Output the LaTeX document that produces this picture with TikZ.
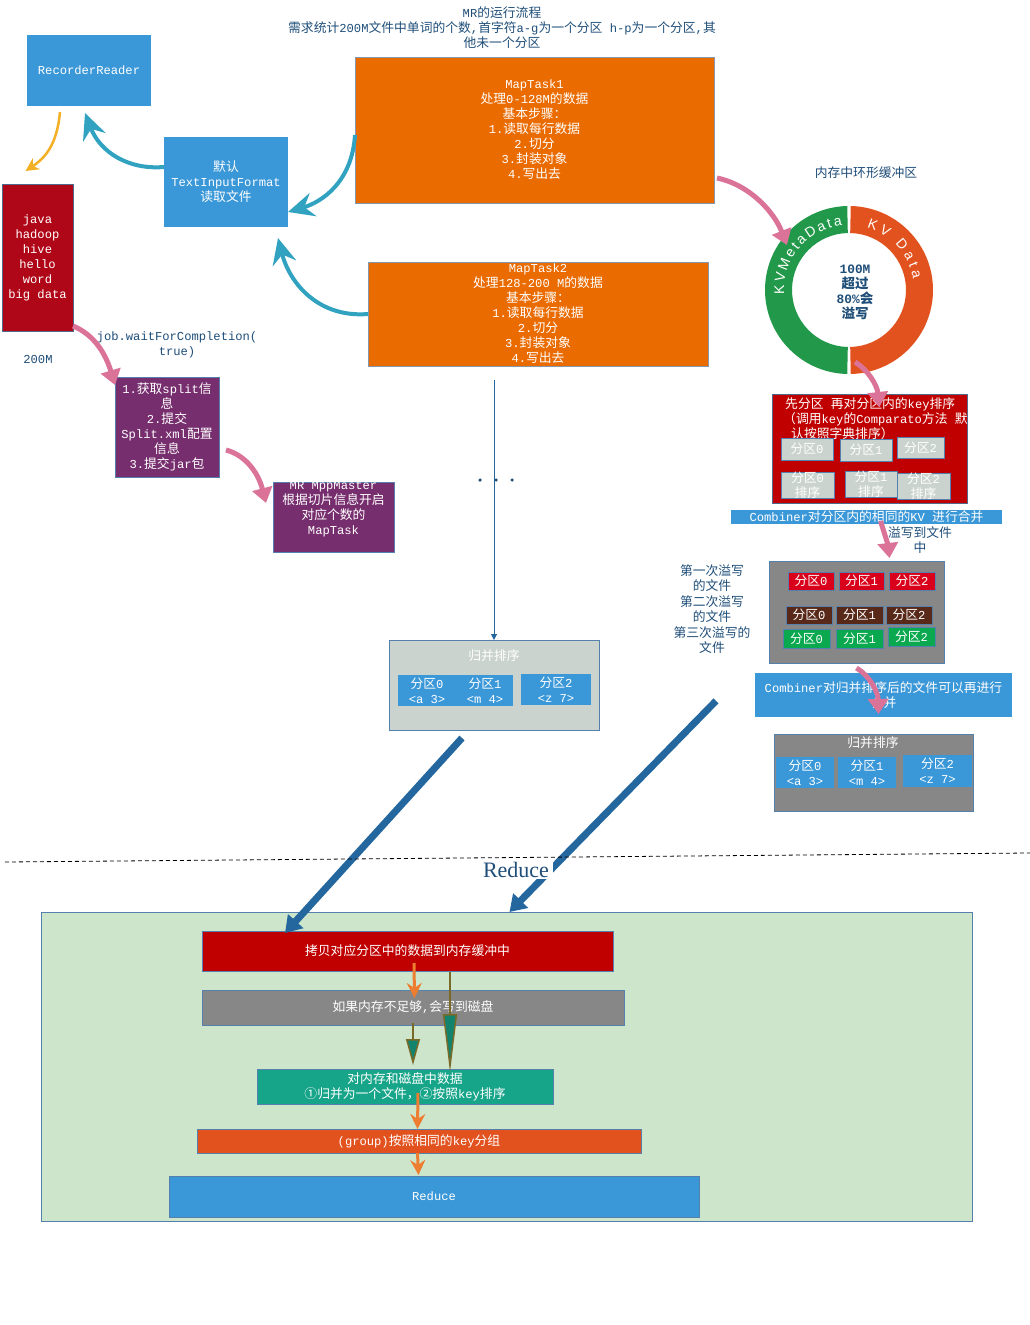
\documentclass[tikz,border=0pt]{standalone}
\usepackage{fontspec}
\setmainfont[Scale=0.95]{Liberation Mono}
\newfontfamily\cjkfont{Noto Sans CJK SC}
\newfontfamily\arialf{Liberation Sans}
\newfontfamily\redfont{Liberation Serif}
\XeTeXinterchartokenstate=1
\newXeTeXintercharclass\cjkclass
\makeatletter
\count@="3000 \loop \XeTeXcharclass\count@=\cjkclass \ifnum\count@<"303F \advance\count@ 1 \repeat
\count@="4E00 \loop \XeTeXcharclass\count@=\cjkclass \ifnum\count@<"9FFF \advance\count@ 1 \repeat
\count@="FF00 \loop \XeTeXcharclass\count@=\cjkclass \ifnum\count@<"FFEF \advance\count@ 1 \repeat
\count@="2460 \loop \XeTeXcharclass\count@=\cjkclass \ifnum\count@<"24FF \advance\count@ 1 \repeat
\makeatother
\XeTeXinterchartoks 0 \cjkclass = {\cjkfont}
\XeTeXinterchartoks 4095 \cjkclass = {\cjkfont}
\XeTeXinterchartoks \cjkclass 0 = {\rmfamily}
\XeTeXinterchartoks \cjkclass 4095 = {\rmfamily}
\usetikzlibrary{arrows.meta,decorations.text}
\definecolor{tblue}{HTML}{1F4E79}
\definecolor{bblue}{HTML}{3A97D8}
\definecolor{orng}{HTML}{EA6B00}
\definecolor{dred}{HTML}{B00718}
\definecolor{purp}{HTML}{772E6E}
\definecolor{teal1}{HTML}{31A3C0}
\definecolor{pink1}{HTML}{DB7398}
\definecolor{gold1}{HTML}{F4B025}
\definecolor{rred}{HTML}{C00000}
\definecolor{lgray}{HTML}{CBD3CE}
\definecolor{mgray}{HTML}{878787}
\definecolor{rgreen}{HTML}{22994A}
\definecolor{rorange}{HTML}{E2521F}
\definecolor{sred}{HTML}{D9001B}
\definecolor{sbrown}{HTML}{582819}
\definecolor{sgreen}{HTML}{0AA84F}
\definecolor{lgreen}{HTML}{CDE6CB}
\definecolor{tealbox}{HTML}{17A589}
\definecolor{aorange}{HTML}{ED7D31}
\definecolor{darrow}{HTML}{24679E}
\definecolor{olive}{HTML}{7A6A2A}
\definecolor{edgeblue}{HTML}{5580AE}
\definecolor{slate}{HTML}{4F6A8A}
\newcommand\fsz{\fontsize{12.8}{15}\selectfont}
\begin{document}
\begin{tikzpicture}[x=1pt,y=-1pt,
 box/.style={anchor=north west, inner sep=0pt, outer sep=0pt, text=white, font=\fsz, align=center, draw=edgeblue, line width=0.8pt},
 lbl/.style={text=tblue, font=\fsz, inner sep=0pt, align=center},
 wl/.style={text=white, font=\fsz, inner sep=0pt, align=center},
 tealarr/.style={draw=teal1, line width=4pt, -{Stealth[length=26pt,width=24pt,inset=9pt]}},
 pinkarr/.style={draw=pink1, line width=5pt, -{Triangle[length=15pt,width=20pt]}},
 bigarr/.style={draw=darrow, line width=7pt, -{Triangle[length=16pt,width=20pt]}},
 oarr/.style={draw=aorange, line width=3pt, -{Stealth[length=15pt,width=15pt,inset=5pt]}},
 tarr/.style={draw=olive, line width=1.5pt, -{Stealth[length=#1,width=14pt,inset=0pt,color=olive,fill=tealbox!80!black]}},
 dot/.style={circle, fill=tblue, inner sep=0pt, minimum size=3.5pt},
]
\useasboundingbox (0,0) rectangle (1030,1325);
\fill[white] (0,0) rectangle (1030,1325);

% title
\node[lbl] (title) at (502,28) {MR的运行流程\\需求统计200M文件中单词的个数,首字符a-g为一个分区 h-p为一个分区,其\\他未一个分区};

% left column
\node[box, fill=bblue, draw=none, minimum width=124pt, minimum height=71pt] (rr) at (27,35) {RecorderReader};
\node[box, fill=bblue, draw=none, minimum width=124pt, minimum height=90pt] (tif) at (164,137) {默认\\TextInputFormat\\读取文件};
\node[box, fill=dred, draw=slate, minimum width=71pt, minimum height=147pt] (data) at (2,184) {java\\hadoop\\hive\\hello\\word\\big data};
\node[lbl] (m200) at (38,359) {200M};
\node[lbl] (job) at (177,344.5) {job.waitForCompletion(\\true)};
\node[box, fill=purp, minimum width=104pt, minimum height=100pt] (p1) at (115,377) {1.获取split信\\息\\2.提交\\Split.xml配置\\信息\\3.提交jar包};
\node[box, fill=purp, minimum width=121pt, minimum height=70pt] (p2) at (273,482) {};
\node[wl] (p2t) at (333.5,509.5) {MR MppMaster\\根据切片信息开启\\对应个数的\\MapTask};

% map tasks
\node[box, fill=orng, draw=slate!70, minimum width=359pt, minimum height=146pt] (mt1) at (355,57) {MapTask1\\处理0-128M的数据\\基本步骤：\\1.读取每行数据\\2.切分\\3.封装对象\\4.写出去};
\node[box, fill=orng, draw=slate!70, minimum width=340pt, minimum height=104pt] (mt2) at (368,262) {MapTask2\\处理128-200 M的数据\\基本步骤：\\1.读取每行数据\\2.切分\\3.封装对象\\4.写出去};

\node[dot] (d1) at (480,480) {};
\node[dot] (d2) at (496,480) {};
\node[dot] (d3) at (512,480) {};

% middle merge box
\node[box, fill=lgray, minimum width=210pt, minimum height=90pt] (mm) at (389,640) {};
\node[wl] (mmt) at (494,656) {归并排序};
\node[box, fill=bblue, draw=none, minimum width=115pt, minimum height=31pt] (mm1) at (398,675) {};
\node[box, fill=bblue, draw=none, minimum width=70pt, minimum height=31pt] (mm2) at (521,674) {};
\node[wl] (mm1a) at (427,690.5) {分区0\\<a 3>};
\node[wl] (mm1b) at (485,690.5) {分区1\\<m 4>};
\node[wl] (mm2a) at (556,689.5) {分区2\\<z 7>};

% ring buffer
\node[lbl] (ringt) at (866,173) {内存中环形缓冲区};
\coordinate (ringc) at (849,290);
\begin{scope}[shift={(849,290)}, y=1pt]
 \fill[rgreen] (91.2:84) arc[start angle=91.2, end angle=268.8, radius=84] -- (268.8:57) arc[start angle=268.8, end angle=91.2, radius=57] -- cycle;
 \fill[rorange] (-88.8:84) arc[start angle=-88.8, end angle=88.8, radius=84] -- (88.8:57) arc[start angle=88.8, end angle=-88.8, radius=57] -- cycle;
 \path[decorate, decoration={text along path, text={|\color{white}\arialf\fontsize{14}{14}\selectfont|KVMetaData}, text align=fit to path}] (184:65) arc[start angle=184, end angle=96, radius=65];
 \path[decorate, decoration={text along path, text={|\color{white}\arialf\fontsize{14}{14}\selectfont|KV Data}, text align=fit to path}] (74:65) arc[start angle=74, end angle=10, radius=65];
\end{scope}
\node[lbl, font=\fontsize{13.5}{15}\selectfont\bfseries] (ringm) at (855,292.5) {100M\\超过\\80\%会\\溢写};

% partition box
\node[box, fill=rred, draw=slate, minimum width=195pt, minimum height=109pt] (pb) at (772,394) {};
\node[wl, anchor=west] (pbt1) at (785,404) {先分区 再对分区内的key排序};
\node[wl, anchor=west] (pbt2) at (783,419) {（调用key的Comparato方法 默};
\node[wl, anchor=west] (pbt3) at (791,434) {认按照字典排序）};
\node[box, fill=lgray, minimum width=52pt, minimum height=22pt] (pa1) at (781,438) {分区0};
\node[box, fill=lgray, minimum width=52pt, minimum height=22pt] (pa2) at (840,439) {分区1};
\node[box, fill=lgray, minimum width=47pt, minimum height=21pt] (pa3) at (897,437) {分区2};
\node[box, fill=lgray, minimum width=53pt, minimum height=23pt] (pc1) at (781,472) {分区0\\排序};
\node[box, fill=lgray, minimum width=52pt, minimum height=24pt] (pc2) at (845,471) {分区1\\排序};
\node[box, fill=lgray, minimum width=53pt, minimum height=21pt] (pc3) at (897,473) {分区2\\排序};
\node[box, fill=bblue, draw=none, minimum width=271pt, minimum height=14pt] (comb) at (731,510) {Combiner对分区内的相同的KV 进行合并};
\node[lbl] (spillt) at (920,540.5) {溢写到文件\\中};

% spill files
\node[box, fill=mgray, minimum width=175pt, minimum height=102pt] (spill) at (769,561) {};
\node[box, fill=sred, minimum width=46pt, minimum height=18pt] (s11) at (788,572) {分区0};
\node[box, fill=sred, minimum width=45pt, minimum height=18pt] (s12) at (839,572) {分区1};
\node[box, fill=sred, minimum width=46pt, minimum height=18pt] (s13) at (889,572) {分区2};
\node[box, fill=sbrown, minimum width=46pt, minimum height=18pt] (s21) at (786,606) {分区0};
\node[box, fill=sbrown, minimum width=47pt, minimum height=18pt] (s22) at (836,606) {分区1};
\node[box, fill=sbrown, minimum width=46pt, minimum height=18pt] (s23) at (886,606) {分区2};
\node[box, fill=sgreen, minimum width=47pt, minimum height=19pt] (s31) at (783,629) {分区0};
\node[box, fill=sgreen, minimum width=47pt, minimum height=19pt] (s32) at (836,629) {分区1};
\node[box, fill=sgreen, minimum width=47pt, minimum height=19pt] (s33) at (888,627) {分区2};
\node[lbl, font=\fontsize{12.8}{15.5}\selectfont] (spl) at (712,609) {第一次溢写\\的文件\\第二次溢写\\的文件\\第三次溢写的\\文件};

\node[box, fill=bblue, draw=none, minimum width=257pt, minimum height=44pt] (comb2) at (755,673) {Combiner对归并排序后的文件可以再进行\\合并};
\node[box, fill=mgray, minimum width=199pt, minimum height=77pt] (mr) at (774,734) {};
\node[wl] (mrt) at (873,743) {归并排序};
\node[box, fill=bblue, draw=none, minimum width=58pt, minimum height=31pt] (mr1) at (776,757) {分区0\\<a 3>};
\node[box, fill=bblue, draw=none, minimum width=58pt, minimum height=31pt] (mr2) at (838,757) {分区1\\<m 4>};
\node[box, fill=bblue, draw=none, minimum width=69pt, minimum height=32pt] (mr3) at (903,755) {分区2\\<z 7>};

% reduce section
\node[box, fill=lgreen, minimum width=931pt, minimum height=309pt] (green) at (41,912) {};
\node[box, fill=rred, minimum width=411pt, minimum height=40pt] (r1) at (202,931) {拷贝对应分区中的数据到内存缓冲中};
\node[box, fill=mgray, minimum width=422pt, minimum height=35pt] (g1) at (202,990) {如果内存不足够,会写到磁盘};
\node[box, fill=tealbox, minimum width=296pt, minimum height=35pt] (t1) at (257,1069) {对内存和磁盘中数据\\①归并为一个文件，②按照key排序};
\node[box, fill=rorange, minimum width=444pt, minimum height=24pt] (grp) at (197,1129) {(group)按照相同的key分组};
\node[box, fill=bblue, minimum width=530pt, minimum height=41pt] (rd) at (169,1176) {Reduce};

% connectors: top-left
\draw[draw=gold1, line width=2.5pt, -{Stealth[length=13pt,width=13pt,inset=4pt]}] ([xshift=-29pt,yshift=-6pt]rr.south) .. controls (57,145) and (45,158) .. ([xshift=-12pt,yshift=13pt]data.north);
\draw[tealarr] ([yshift=15pt]tif.west) .. controls (128,170) and (100,152) .. ([xshift=-4pt,yshift=-7pt]rr.south);
\draw[tealarr] ([yshift=-5pt]mt1.west) .. controls (352,182) and (322,202) .. ([yshift=-30pt]tif.east);
\draw[tealarr] (mt2.west) .. controls (320,318) and (290,285) .. ([xshift=52pt,yshift=-11pt]tif.south);

% pink arrows
\draw[pinkarr] ([yshift=5pt]data.south east) .. controls (95,335) and (106,355) .. ([yshift=-8pt]p1.north west);
\draw[pinkarr] ([xshift=7pt,yshift=-23pt]p1.east) .. controls (245,455) and (258,472) .. ([xshift=-7pt,yshift=-21pt]p2.north west);
\draw[pinkarr] ([xshift=3pt,yshift=-48pt]mt1.east) .. controls (750,185) and (774,212) .. ([xshift=-62pt,yshift=45pt]ringc);
\draw[pinkarr] ([xshift=6pt,yshift=-72pt]ringc) .. controls (868,370) and (877,385) .. ([xshift=10pt,yshift=-13pt]pb.north);
\draw[pinkarr] ([xshift=14pt,yshift=-4pt]comb.center) .. controls (884,532) and (888,545) .. ([xshift=33pt,yshift=3pt]spill.north);
\draw[pinkarr] ([yshift=-5pt]spill.south) .. controls (870,676) and (878,692) .. ([xshift=5pt,yshift=20pt]mr.north);

% thin line to merge box
\draw[draw=darrow, line width=1pt, -{Triangle[length=6pt,width=6pt]}] ([xshift=-44pt,yshift=-14pt]mt2.south) -- (mm.north);

% big arrows into reduce
\draw[bigarr] ([xshift=-32pt,yshift=-8pt]mm.south) -- ([xshift=83pt,yshift=-2pt]r1.north west);
\draw[bigarr] ([xshift=4pt,yshift=-47pt]spl.south) -- ([xshift=3pt]green.north);
\node[text=tblue, font=\redfont\fontsize{22}{22}\selectfont, fill=white, inner xsep=4pt, inner ysep=1pt] (redl) at (516,870) {Reduce};
\coordinate (dl1) at (5,862);
\coordinate (dl2) at (1030,853);
\draw[line width=0.8pt, dash pattern=on 4pt off 3pt] (dl1) -- (dl2);

% reduce section arrows
\draw[oarr] ([xshift=6.5pt,yshift=8pt]r1.south) -- ([xshift=1.5pt,yshift=-8pt]g1.north);
\draw[tarr=58pt] ([xshift=42.5pt,yshift=-1pt]r1.south) -- ([xshift=45pt,yshift=-3pt]t1.north);
\draw[tarr=26pt] ([yshift=2pt]g1.south) -- ([xshift=8pt,yshift=4pt]t1.north);
\draw[oarr] ([xshift=13pt,yshift=11pt]t1.south) -- ([xshift=-1.5pt]grp.north);
\draw[oarr] ([xshift=-1.5pt]grp.south) -- ([xshift=-15.5pt,yshift=1pt]rd.north);
\end{tikzpicture}
\end{document}
